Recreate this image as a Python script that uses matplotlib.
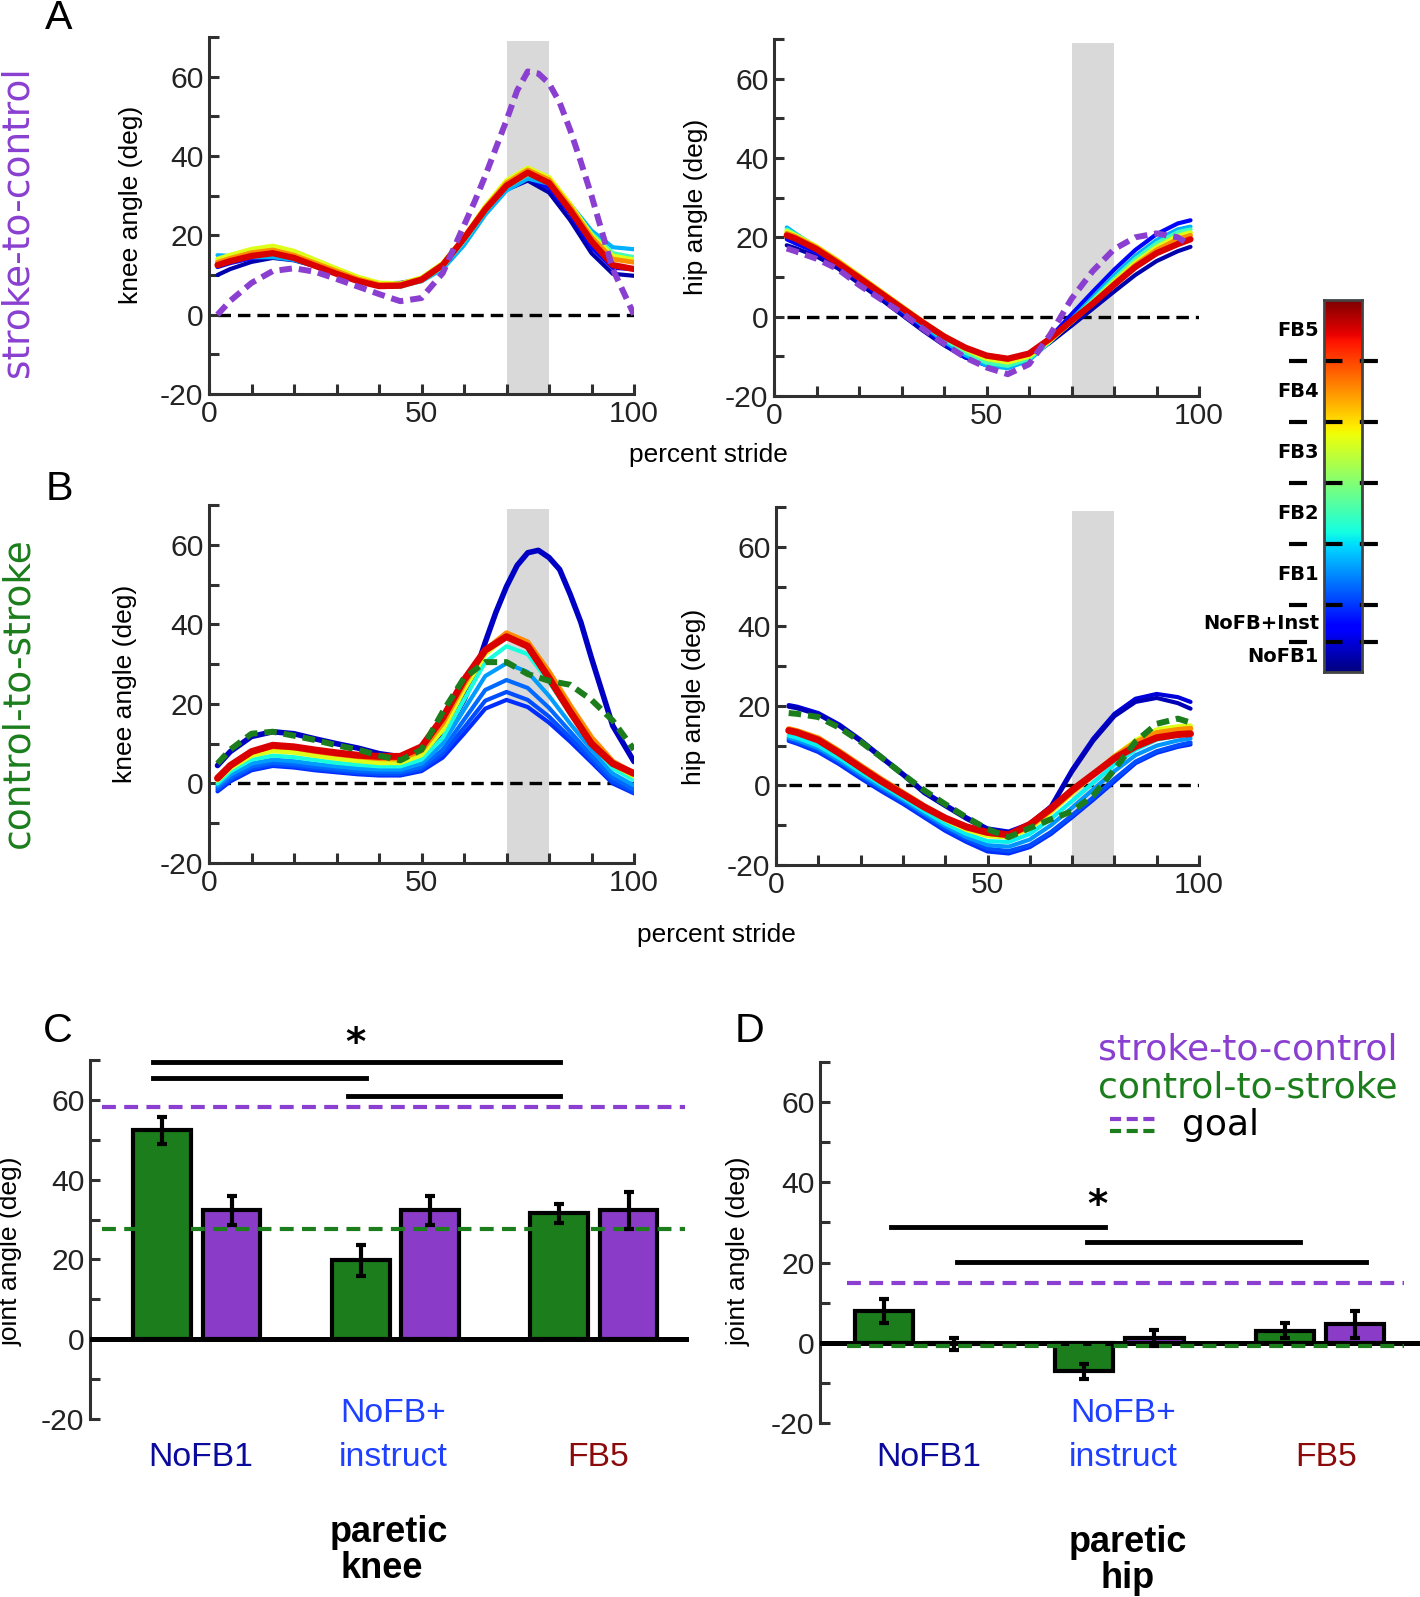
import numpy as np
import matplotlib
matplotlib.use("Agg")
import matplotlib.pyplot as plt
from matplotlib import font_manager
from matplotlib.lines import Line2D

_names = {f.name for f in font_manager.fontManager.ttflist}
SANS = 'Liberation Sans' if 'Liberation Sans' in _names else 'DejaVu Sans'
if 'Liberation Sans Narrow' in _names:
    NARROW, NSCALE = 'Liberation Sans Narrow', 1.0
else:
    NARROW, NSCALE = SANS, 0.9
plt.rcParams['font.family'] = [NARROW, 'DejaVu Sans']
plt.rcParams['axes.unicode_minus'] = False
plt.rcParams['lines.scale_dashes'] = False

# ---------------- data ----------------
stride_knee = [2, 5, 10, 15, 20, 25, 30, 35, 40, 45, 50, 55, 60, 65, 70, 75, 80, 85, 90, 95, 100]
stride_knee_fine = [2, 5, 10, 15, 20, 25, 30, 35, 40, 45, 50, 55, 60, 62.5, 65, 67.5, 70, 72.5,
                    75, 77.5, 80, 82.5, 85, 87.5, 90, 95, 100]
stride_hip = [3, 5, 10, 15, 20, 25, 30, 35, 40, 45, 50, 55, 60, 65, 70, 75, 80, 85, 90, 95, 98]

# A: stroke-to-control, knee
a_knee_goal = [0, 3.5, 8, 11, 11.7, 10.8, 9, 7.1, 5.2, 3.4, 4.2, 10.5, 22.5, 28.5, 35, 42, 49, 56.5,
               61.3, 60.8, 58.3, 53.5, 46.5, 38.5, 30, 11.5, 0]
a_knee_nofb1 = [10.0, 11.5, 13.3, 14.3, 13.7, 12.2, 10.4, 8.8, 7.9, 8.0, 9.0, 12.6, 18.8, 26.0, 31.5, 33.8, 30.8, 23.8, 15.5, 10.3, 9.8]
a_knee_inst = [12.0, 13.0, 14.2, 15.0, 14.2, 12.5, 10.6, 8.8, 7.8, 7.8, 9.0, 12.5, 18.8, 26.0, 32.0, 34.5, 32.0, 25.5, 17.0, 11.8, 11.5]
a_knee_fb1 = [15.0, 14.8, 14.5, 14.5, 13.8, 12.3, 10.3, 8.4, 7.3, 7.3, 8.4, 11.5, 17.5, 25.2, 31.3, 34.3, 33.0, 27.8, 21.2, 17.0, 16.5]
a_knee_fb2 = [13.5, 14.0, 15.0, 15.5, 14.6, 12.8, 10.8, 8.8, 7.3, 7.0, 8.5, 12.0, 18.5, 26.0, 32.2, 35.3, 33.5, 27.5, 20.5, 15.5, 14.5]
a_knee_fb3 = [14.0, 15.0, 16.5, 17.3, 16.0, 13.8, 11.6, 9.5, 8.0, 7.8, 9.3, 13.0, 19.5, 27.3, 33.8, 37.0, 34.6, 27.8, 20.0, 14.8, 13.8]
a_knee_fb4 = [13.2, 14.2, 15.6, 16.3, 15.0, 13.0, 11.0, 9.0, 7.6, 7.6, 9.1, 12.8, 19.5, 27.0, 33.2, 36.5, 34.0, 27.2, 19.5, 14.0, 13.2]
a_knee_fb5 = [12.5, 13.5, 14.8, 15.5, 14.3, 12.3, 10.3, 8.5, 7.2, 7.3, 8.8, 12.5, 19.2, 26.5, 32.5, 35.8, 33.2, 26.3, 18.5, 12.5, 11.5]

# A: stroke-to-control, hip
a_hip_goal = [17.2, 16.5, 14.6, 12, 8, 4.5, 1, -3, -6.8, -10.3, -12.8, -14.5, -12, -4.5, 4.5, 11.5, 17, 20, 21, 20, 18]
a_hip_nofb1 = [18.0, 17.3, 15.2, 12.2, 8.4, 4.5, 0.5, -3.5, -7.2, -10.3, -12.0, -12.0, -10.2, -6.5, -2.3, 2.0, 6.3, 10.5, 14.0, 16.5, 17.6]
a_hip_inst = [19.5, 18.5, 16.2, 13.0, 9.2, 5.2, 1.2, -2.8, -6.8, -10.2, -12.3, -12.6, -10.2, -5.2, 0.6, 6.3, 11.8, 16.8, 20.8, 23.5, 24.3]
a_hip_fb1 = [22.5, 21.0, 17.4, 13.7, 9.8, 5.8, 1.8, -2.2, -6.2, -9.7, -12.3, -13.0, -11.0, -6.3, -0.7, 4.8, 10.3, 15.3, 19.3, 22.0, 22.7]
a_hip_fb2 = [22.0, 20.8, 17.6, 14.0, 10.2, 6.2, 2.3, -1.7, -5.6, -9.0, -11.6, -12.4, -10.6, -6.2, -1.0, 4.2, 9.5, 14.5, 18.5, 21.3, 22.0]
a_hip_fb3 = [21.5, 20.5, 17.7, 14.2, 10.4, 6.5, 2.6, -1.3, -5.0, -8.2, -10.6, -11.5, -10.0, -6.0, -1.3, 3.6, 8.8, 13.6, 17.5, 20.3, 21.2]
a_hip_fb4 = [21.0, 20.2, 17.5, 14.0, 10.2, 6.4, 2.6, -1.2, -4.8, -7.8, -10.0, -10.8, -9.5, -5.8, -1.3, 3.3, 8.3, 13.0, 16.8, 19.5, 20.5]
a_hip_fb5 = [20.5, 19.7, 17.0, 13.5, 9.8, 6.0, 2.2, -1.5, -5.0, -7.8, -9.8, -10.6, -9.3, -5.5, -1.0, 3.3, 8.0, 12.5, 16.0, 18.3, 19.5]

# B: control-to-stroke, knee
b_knee_goal = [5, 8.5, 12.5, 13, 12, 10.9, 9.6, 8.5, 7, 5.8, 8.5, 18, 26.5, 30.5, 30.5, 27.5, 25.8, 24.8, 21, 15.8, 8.5]
b_knee_nofb1 = [4.5, 8, 11.8, 13, 12.5, 11.2, 10, 8.9, 7.5, 6.7, 8, 11.8, 21, 27.5, 35.5, 43, 49.5, 54.8,
                58, 58.6, 56.8, 53.8, 47.5, 40.5, 31.5, 14.5, 5.5]
b_knee_inst_a = [-2, 0.5, 3.3, 4.4, 4, 3.3, 2.8, 2.3, 2, 2, 3.1, 6.5, 12.5, 18.8, 21, 19.2, 15.3, 10.5, 5.3, 0, -2.5]
b_knee_inst_b = [-1.5, 1, 3.8, 4.8, 4.4, 3.7, 3.2, 2.7, 2.4, 2.4, 3.6, 7.5, 14, 20.8, 23, 21, 16.8, 11.5, 6, 0.5, -2.2]
b_knee_fb1_a = [-1, 1.5, 4.3, 5.3, 4.9, 4.2, 3.7, 3.2, 2.9, 2.9, 4.2, 8.5, 16, 23.5, 26, 24, 19, 13, 7, 1.5, -1.5]
b_knee_fb1_b = [-0.5, 2.2, 5, 6, 5.6, 4.9, 4.3, 3.8, 3.5, 3.5, 5, 10, 18.5, 27, 30.2, 28, 22, 15, 8.5, 2.5, -0.5]
b_knee_fb2 = [0, 3, 6, 7, 6.6, 5.9, 5.2, 4.7, 4.3, 4.3, 6, 11.5, 21, 30.5, 34.5, 32.5, 25.5, 17.5, 10, 3.8, 0.8]
b_knee_fb3 = [0.8, 3.8, 7, 8.2, 7.8, 7, 6.3, 5.7, 5.2, 5.2, 7.2, 13.5, 23.5, 32.5, 37.0, 34.8, 27.5, 19, 11, 4.8, 1.8]
b_knee_fb4 = [1.5, 4.5, 8, 9.3, 9, 8.1, 7.4, 6.8, 6.3, 6.2, 8.3, 15.2, 25, 33.5, 37.8, 35.5, 28, 19.5, 11.5, 5.5, 2.5]
b_knee_fb5 = [1.3, 4.5, 8, 9.6, 9.2, 8.4, 7.7, 7.1, 6.8, 6.8, 9.2, 16.5, 26, 33.5, 36.9, 34.5, 26.5, 18, 10, 5, 2.5]

# B: control-to-stroke, hip
b_hip_goal = [18.2, 18, 17.2, 14.5, 11, 7, 2.8, -1.2, -4.7, -8, -11, -13, -10.7, -8.5, -6.5, -2.5, 4, 11, 15.5, 16.8, 15.8]
b_hip_nofb1_a = [20.2, 19.8, 18.2, 15.3, 11.5, 7.2, 3, -1.5, -4.8, -8, -10.8, -11.6, -9.6, -5.2, 4, 11.8, 18, 21.8, 23, 22.2, 21]
b_hip_nofb1_b = [19.8, 19.4, 17.8, 14.9, 11.1, 6.8, 2.6, -1.9, -5.2, -8.4, -11.2, -12, -10, -5.6, 3.4, 11.2, 17.4, 21, 22, 20.7, 19.3]
b_hip_inst_a = [11.2, 10.5, 8.4, 5.3, 1.8, -1.5, -4.6, -8, -11.4, -14.2, -16.6, -17.1, -15.5, -12.2, -8, -3.6, 1, 5.6, 8.2, 9.7, 10.3]
b_hip_inst_b = [11.6, 10.9, 8.9, 5.8, 2.3, -1.0, -4.1, -7.5, -10.8, -13.6, -15.9, -16.5, -15.0, -11.7, -7.5, -3.0, 1.6, 6.0, 8.6, 10.1, 10.8]
b_hip_fb1 = [12, 11.4, 9.4, 6.3, 2.8, -0.5, -3.6, -7, -10.2, -13, -15, -15.4, -13.6, -10, -5.6, -1, 3.6, 7.6, 10, 11.3, 11.8]
b_hip_fb2 = [12.5, 12, 10, 6.9, 3.4, 0.1, -3.1, -6.4, -9.6, -12.2, -14, -14.2, -12.2, -8.4, -3.9, 0.7, 5.2, 9, 11.5, 12.5, 12.8]
b_hip_fb3 = [13.8, 13.3, 11.5, 8.3, 4.7, 1.2, -2.1, -5.5, -8.6, -11.1, -12.7, -13, -10.8, -6.7, -2.0, 2.6, 7.3, 11.3, 14, 14.8, 15]
b_hip_fb4 = [14.2, 13.7, 11.9, 8.6, 5.0, 1.5, -1.8, -5.1, -8.2, -10.6, -12.0, -12.6, -10.3, -6.2, -1.6, 2.8, 7.2, 10.8, 13.2, 14, 14.3]
b_hip_fb5 = [13.8, 13.3, 11.4, 8.1, 4.5, 1.0, -2.2, -5.4, -8.2, -10.4, -11.8, -12.4, -9.8, -5.8, -1.2, 2.8, 6.8, 9.8, 12, 12.8, 13]

# colorbar blocks (strides per condition, bottom to top)
cb_labels = ['NoFB1', 'NoFB+Inst', 'FB1', 'FB2', 'FB3', 'FB4', 'FB5']
cb_sizes = [5, 6, 10, 10, 10, 10, 10]

# C / D bar data (means and error)
knee_c2s = [52.4, 19.8, 31.6]
knee_c2s_err = [3.4, 3.9, 2.4]
knee_s2c = [32.3, 32.3, 32.3]
knee_s2c_err = [3.7, 3.6, 4.7]
hip_c2s = [7.9, -7.1, 3.0]
hip_c2s_err = [2.9, 1.9, 1.9]
hip_s2c = [-0.3, 1.2, 4.6]
hip_s2c_err = [1.5, 2.0, 3.3]
knee_goal_s2c, knee_goal_c2s = 58.3, 27.7
hip_goal_s2c, hip_goal_c2s = 14.8, -0.8
# significance bars: (x start, x end, level)
knee_sig = [(0.78, 2.83, 69.5), (0.78, 1.85, 65.4), (1.76, 2.83, 61.0)]
hip_sig = [(0.86, 1.93, 28.8), (1.84, 2.90, 25.2), (1.19, 3.23, 20.1)]

# ---------------- style ----------------
PURPLE = '#8a3fd0'
GREEN = '#1b7d1b'
BAR_PURPLE = '#8a3cc8'
AXC = '#303030'
jet = plt.get_cmap('jet')
TICK_FS = 24 * NSCALE

W, H = 1420, 1597
fig = plt.figure(figsize=(W / 100, H / 100), dpi=100)


def px_axes(x0, y0, x1, y1):
    return fig.add_axes([x0 / W, 1 - y1 / H, (x1 - x0) / W, (y1 - y0) / H])


def ftext(x, y, s, **kw):
    fig.text(x / W, 1 - y / H, s, **kw)


def setup_curve_axes(ax, ylabel, lx, ly):
    ax.set_xlim(0, 100)
    ax.set_ylim(-20, 70)
    for s in ('top', 'right'):
        ax.spines[s].set_visible(False)
    for s in ('left', 'bottom'):
        ax.spines[s].set_linewidth(2.2)
        ax.spines[s].set_color(AXC)
    ax.set_xticks([0, 50, 100])
    ax.set_xticks(np.arange(0, 101, 10), minor=True)
    ax.set_yticks([-20, 0, 20, 40, 60])
    ax.set_yticks(np.arange(-20, 71, 10), minor=True)
    ax.tick_params(which='both', direction='in', length=7, width=2.2, color=AXC,
                   labelsize=TICK_FS, pad=4, labelcolor='#222222')
    ax.set_ylabel(ylabel, fontsize=19, family=SANS)
    ax.yaxis.set_label_coords(lx, ly)


def draw_curves(ax, curves, goal_x, goal, goal_color):
    ax.axvspan(70, 80, ymin=0, ymax=0.99, color='#d9d9d9', lw=0, zorder=0)
    ax.plot([goal_x[0], 100], [0, 0], color='k', lw=2.4, dashes=(9, 5), zorder=1)
    for x, vals, cpos, lw in curves:
        ax.plot(x, vals, color=jet(cpos), lw=lw, solid_capstyle='round',
                solid_joinstyle='round', zorder=2)
    ax.plot(goal_x, goal, color=goal_color, lw=4.3, dashes=(9, 5), zorder=3)


# ---------------- A ----------------
sk, sh, skf = stride_knee, stride_hip, stride_knee_fine
ax = px_axes(209, 37, 634, 394)
draw_curves(ax,
            [(sk, a_knee_nofb1, 0.04, 3), (sk, a_knee_inst, 0.13, 3), (sk, a_knee_fb1, 0.3, 3),
             (sk, a_knee_fb2, 0.43, 3), (sk, a_knee_fb3, 0.62, 3.5), (sk, a_knee_fb4, 0.76, 3.5),
             (sk, a_knee_fb5, 0.92, 4.5)],
            skf, a_knee_goal, PURPLE)
setup_curve_axes(ax, 'knee angle (deg)', -0.155, 0.53)

ax = px_axes(774, 39, 1199, 396)
draw_curves(ax,
            [(sh, a_hip_nofb1, 0.04, 3), (sh, a_hip_inst, 0.13, 3), (sh, a_hip_fb1, 0.3, 3),
             (sh, a_hip_fb2, 0.43, 3), (sh, a_hip_fb3, 0.62, 3.5), (sh, a_hip_fb4, 0.76, 3.5),
             (sh, a_hip_fb5, 0.92, 4.5)],
            sh, a_hip_goal, PURPLE)
setup_curve_axes(ax, 'hip angle (deg)', -0.155, 0.53)

# ---------------- B ----------------
ax = px_axes(209, 505, 634, 863)
draw_curves(ax,
            [(skf, b_knee_nofb1, 0.06, 4), (sk, b_knee_inst_a, 0.17, 3), (sk, b_knee_inst_b, 0.2, 3),
             (sk, b_knee_fb1_a, 0.23, 3), (sk, b_knee_fb1_b, 0.28, 3), (sk, b_knee_fb2, 0.38, 3),
             (sk, b_knee_fb3, 0.62, 3.5), (sk, b_knee_fb4, 0.76, 4), (sk, b_knee_fb5, 0.92, 5)],
            sk, b_knee_goal, GREEN)
setup_curve_axes(ax, 'knee angle (deg)', -0.17, 0.5)

ax = px_axes(776, 507, 1199, 865)
draw_curves(ax,
            [(sh, b_hip_nofb1_a, 0.08, 3), (sh, b_hip_nofb1_b, 0.05, 3), (sh, b_hip_inst_a, 0.17, 3),
             (sh, b_hip_inst_b, 0.2, 3), (sh, b_hip_fb1, 0.27, 3), (sh, b_hip_fb2, 0.36, 3),
             (sh, b_hip_fb3, 0.62, 3.5), (sh, b_hip_fb4, 0.76, 4), (sh, b_hip_fb5, 0.92, 5)],
            sh, b_hip_goal, GREEN)
setup_curve_axes(ax, 'hip angle (deg)', -0.165, 0.47)

ftext(708, 455, 'percent stride', fontsize=21 * NSCALE, ha='center', va='center')
ftext(716, 935, 'percent stride', fontsize=21 * NSCALE, ha='center', va='center')
ftext(18, 222, 'stroke-to-control', rotation=90, ha='center', va='center',
      fontsize=27, color=PURPLE, family='DejaVu Sans')
ftext(18, 693, 'control-to-stroke', rotation=90, ha='center', va='center',
      fontsize=27, color=GREEN, family='DejaVu Sans')

# ---------------- colorbar ----------------
cax = px_axes(1324, 300, 1362, 672)
total = sum(cb_sizes)
grad = np.linspace(0, 1, 256).reshape(-1, 1)
cax.imshow(grad, aspect='auto', cmap='jet', origin='lower', extent=[0, 1, 0, total])
cax.set_xlim(0, 1)
cax.set_ylim(0, total)
cax.set_xticks([])
cax.set_yticks([])
for s in cax.spines.values():
    s.set_linewidth(2)
    s.set_color('#444444')
edges = np.cumsum(cb_sizes)
for b in edges[:-1]:
    cax.plot([-0.92, 1.5], [b, b], color='k', lw=3, dashes=(13, 12.5), clip_on=False)
for lab, e, sz in zip(cb_labels, edges, cb_sizes):
    cax.text(-0.13, e - sz / 2, lab, ha='right', va='center', fontsize=14,
             fontweight='bold', family='DejaVu Sans')


# ---------------- C / D ----------------
def bar_panel(ax, c2s, c2s_err, s2c, s2c_err, goal_s2c, goal_c2s, sig, xlim, dash_x):
    pos = np.arange(1, 4)
    off, bw = 0.175, 0.29
    ax.set_xlim(*xlim)
    ax.set_ylim(-20, 70)
    ax.bar(pos - off, c2s, bw, color=GREEN, edgecolor='k', lw=3, zorder=2)
    ax.bar(pos + off, s2c, bw, color=BAR_PURPLE, edgecolor='k', lw=3, zorder=2)
    ax.axhline(0, color='k', lw=3.6, zorder=3)
    ax.plot(dash_x, [goal_s2c, goal_s2c], color=PURPLE, lw=3, dashes=(10, 6), zorder=4)
    ax.plot(dash_x, [goal_c2s, goal_c2s], color=GREEN, lw=3, dashes=(10, 6), zorder=4)
    ax.errorbar(pos - off, c2s, yerr=c2s_err, fmt='none', ecolor='k', elinewidth=3,
                capsize=3.5, capthick=3, zorder=5)
    ax.errorbar(pos + off, s2c, yerr=s2c_err, fmt='none', ecolor='k', elinewidth=3,
                capsize=3.5, capthick=3, zorder=5)
    for x0, x1, lv in sig:
        ax.plot([x0, x1], [lv, lv], color='k', lw=3.5, clip_on=False, zorder=5)
    for s in ('top', 'right', 'bottom'):
        ax.spines[s].set_visible(False)
    ax.spines['left'].set_linewidth(2.2)
    ax.spines['left'].set_color(AXC)
    ax.set_xticks([])
    ax.set_yticks([-20, 0, 20, 40, 60])
    ax.set_yticks(np.arange(-20, 71, 10), minor=True)
    ax.tick_params(which='both', direction='in', length=7, width=2.2, color=AXC,
                   labelsize=TICK_FS, pad=4, labelcolor='#222222')
    ax.set_ylabel('joint angle (deg)', fontsize=19, family=SANS)


axC = px_axes(90, 1060, 689, 1419)
bar_panel(axC, knee_c2s, knee_c2s_err, knee_s2c, knee_s2c_err, knee_goal_s2c,
          knee_goal_c2s, knee_sig, (0.461, 3.479), [0.52, 3.46])
axC.yaxis.set_label_coords(-0.112, 0.468)
axC.text(1.80, 74, '*', ha='center', va='center', fontsize=28, fontweight='bold',
         family='DejaVu Sans')

axD = px_axes(820, 1062, 1420, 1423)
bar_panel(axD, hip_c2s, hip_c2s_err, hip_s2c, hip_s2c_err, hip_goal_s2c,
          hip_goal_c2s, hip_sig, (0.506, 3.5), [0.64, 3.42])
axD.yaxis.set_label_coords(-0.115, 0.476)
axD.text(1.89, 34, '*', ha='center', va='center', fontsize=28, fontweight='bold',
         family='DejaVu Sans')

# group labels under bars
label_colors = ['#0a0a9c', '#1f40ff', '#8c0a0a']
GL_FS = 27 * NSCALE
for cx_list in ([201, 393, 598], [929, 1123, 1326]):
    ftext(cx_list[0], 1457, 'NoFB1', fontsize=GL_FS, ha='center', va='center', color=label_colors[0])
    ftext(cx_list[1], 1413, 'NoFB+', fontsize=GL_FS, ha='center', va='center', color=label_colors[1])
    ftext(cx_list[1], 1457, 'instruct', fontsize=GL_FS, ha='center', va='center', color=label_colors[1])
    ftext(cx_list[2], 1457, 'FB5', fontsize=GL_FS, ha='center', va='center', color=label_colors[2])

for tx, ty, t in ((389, 1533, 'paretic'), (382, 1569, 'knee'),
                  (1128, 1543, 'paretic'), (1128, 1579, 'hip')):
    ftext(tx, ty, t, fontsize=26, ha='center', va='center', family=SANS,
          fontweight='bold')

# legend in D
ftext(1098, 1050, 'stroke-to-control', fontsize=26, ha='left', va='center',
      color=PURPLE, family='DejaVu Sans')
ftext(1098, 1087, 'control-to-stroke', fontsize=26, ha='left', va='center',
      color=GREEN, family='DejaVu Sans')
for yy, col in ((1119, PURPLE), (1131, GREEN)):
    fig.add_artist(Line2D([1110 / W, 1159 / W], [1 - yy / H, 1 - yy / H], color=col,
                          lw=3, dashes=(8, 4), transform=fig.transFigure))
ftext(1182, 1125, 'goal', fontsize=26, ha='left', va='center', family='DejaVu Sans')

# panel letters
for (lx, ly, t) in ((59, 18, 'A'), (59, 489, 'B'), (58, 1031, 'C'), (749, 1031, 'D')):
    ftext(lx, ly, t, fontsize=33 * NSCALE, ha='center', va='center')

fig.savefig('out.png', dpi=100)
